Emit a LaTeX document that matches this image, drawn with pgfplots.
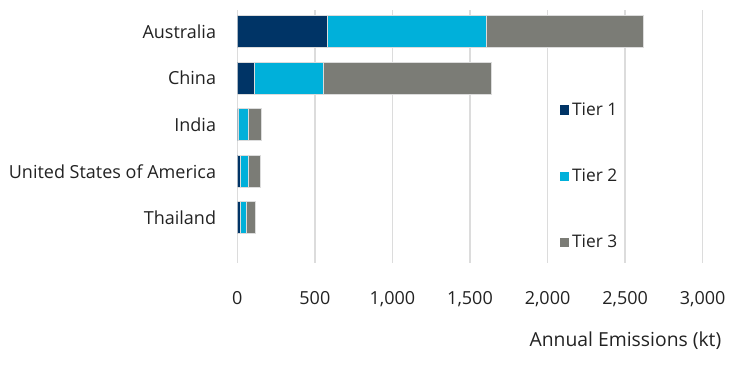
\documentclass[border=0pt]{standalone}
\usepackage{pgfplots}
\pgfplotsset{compat=1.18}
\usepackage{fontspec}
\setmainfont{Open Sans}
\definecolor{tone}{HTML}{003466}
\definecolor{ttwo}{HTML}{00B0DA}
\definecolor{tthree}{HTML}{7B7C76}
\definecolor{txt}{HTML}{222222}
\definecolor{gridc}{HTML}{DCDCDC}
\begin{document}
\begin{tikzpicture}[x=1pt,y=1pt]
\useasboundingbox (0,0) rectangle (557.25,281.25);
\begin{axis}[
  at={(177.98pt,84pt)}, anchor=south west,
  scale only axis, width=349.05pt, height=189.75pt,
  xbar stacked, bar width=24pt,
  xmin=0, xmax=3000, ymin=-0.467, ymax=4.974, y dir=reverse,
  ytick={0,1,2,3,4},
  yticklabels={Australia,China,India,United States of America,Thailand},
  xtick={0,500,...,3000},
  scaled x ticks=false,
  /pgf/number format/.cd, 1000 sep={,}, assume math mode=true,
  /pgfplots/.cd,
  axis line style={draw=none},
  tick style={draw=none},
  xmajorgrids, major grid style={color=gridc, line width=1pt},
  tick label style={font=\fontsize{13.5}{15}\selectfont, text=txt},
  yticklabel style={inner sep=0pt, anchor=east, xshift=-15.75pt},
  xticklabel style={inner sep=0pt, anchor=north, yshift=-21.5pt},
  xlabel={Annual Emissions (kt)},
  xlabel style={at={(axis description cs:0.834,0)}, anchor=center, yshift=-58.5pt, font=\fontsize{14.5}{16}\selectfont, text=txt, inner sep=0pt},
  legend style={at={(0.685,0.656)}, anchor=north west, draw=none, fill=none,
    font=\fontsize{13}{15}\selectfont, text=txt, row sep=34.5pt,
    /tikz/every even column/.append style={column sep=0pt}},
  legend cell align=left,
  legend image code/.code={\fill[#1,draw=none] (0pt,-3.4pt) rectangle (6.8pt,3.4pt);},
  every axis plot/.append style={draw=gridc, line width=0.4pt},
]
\addplot[fill=tone] coordinates {(582,0) (110,1) (3,2) (17,3) (17,4)};
\addplot[fill=ttwo] coordinates {(1024,0) (444,1) (68,2) (54,3) (39,4)};
\addplot[fill=tthree] coordinates {(1009,0) (1080,1) (86,2) (75,3) (62,4)};
\legend{Tier 1,Tier 2,Tier 3}
\end{axis}
\end{tikzpicture}
\end{document}
